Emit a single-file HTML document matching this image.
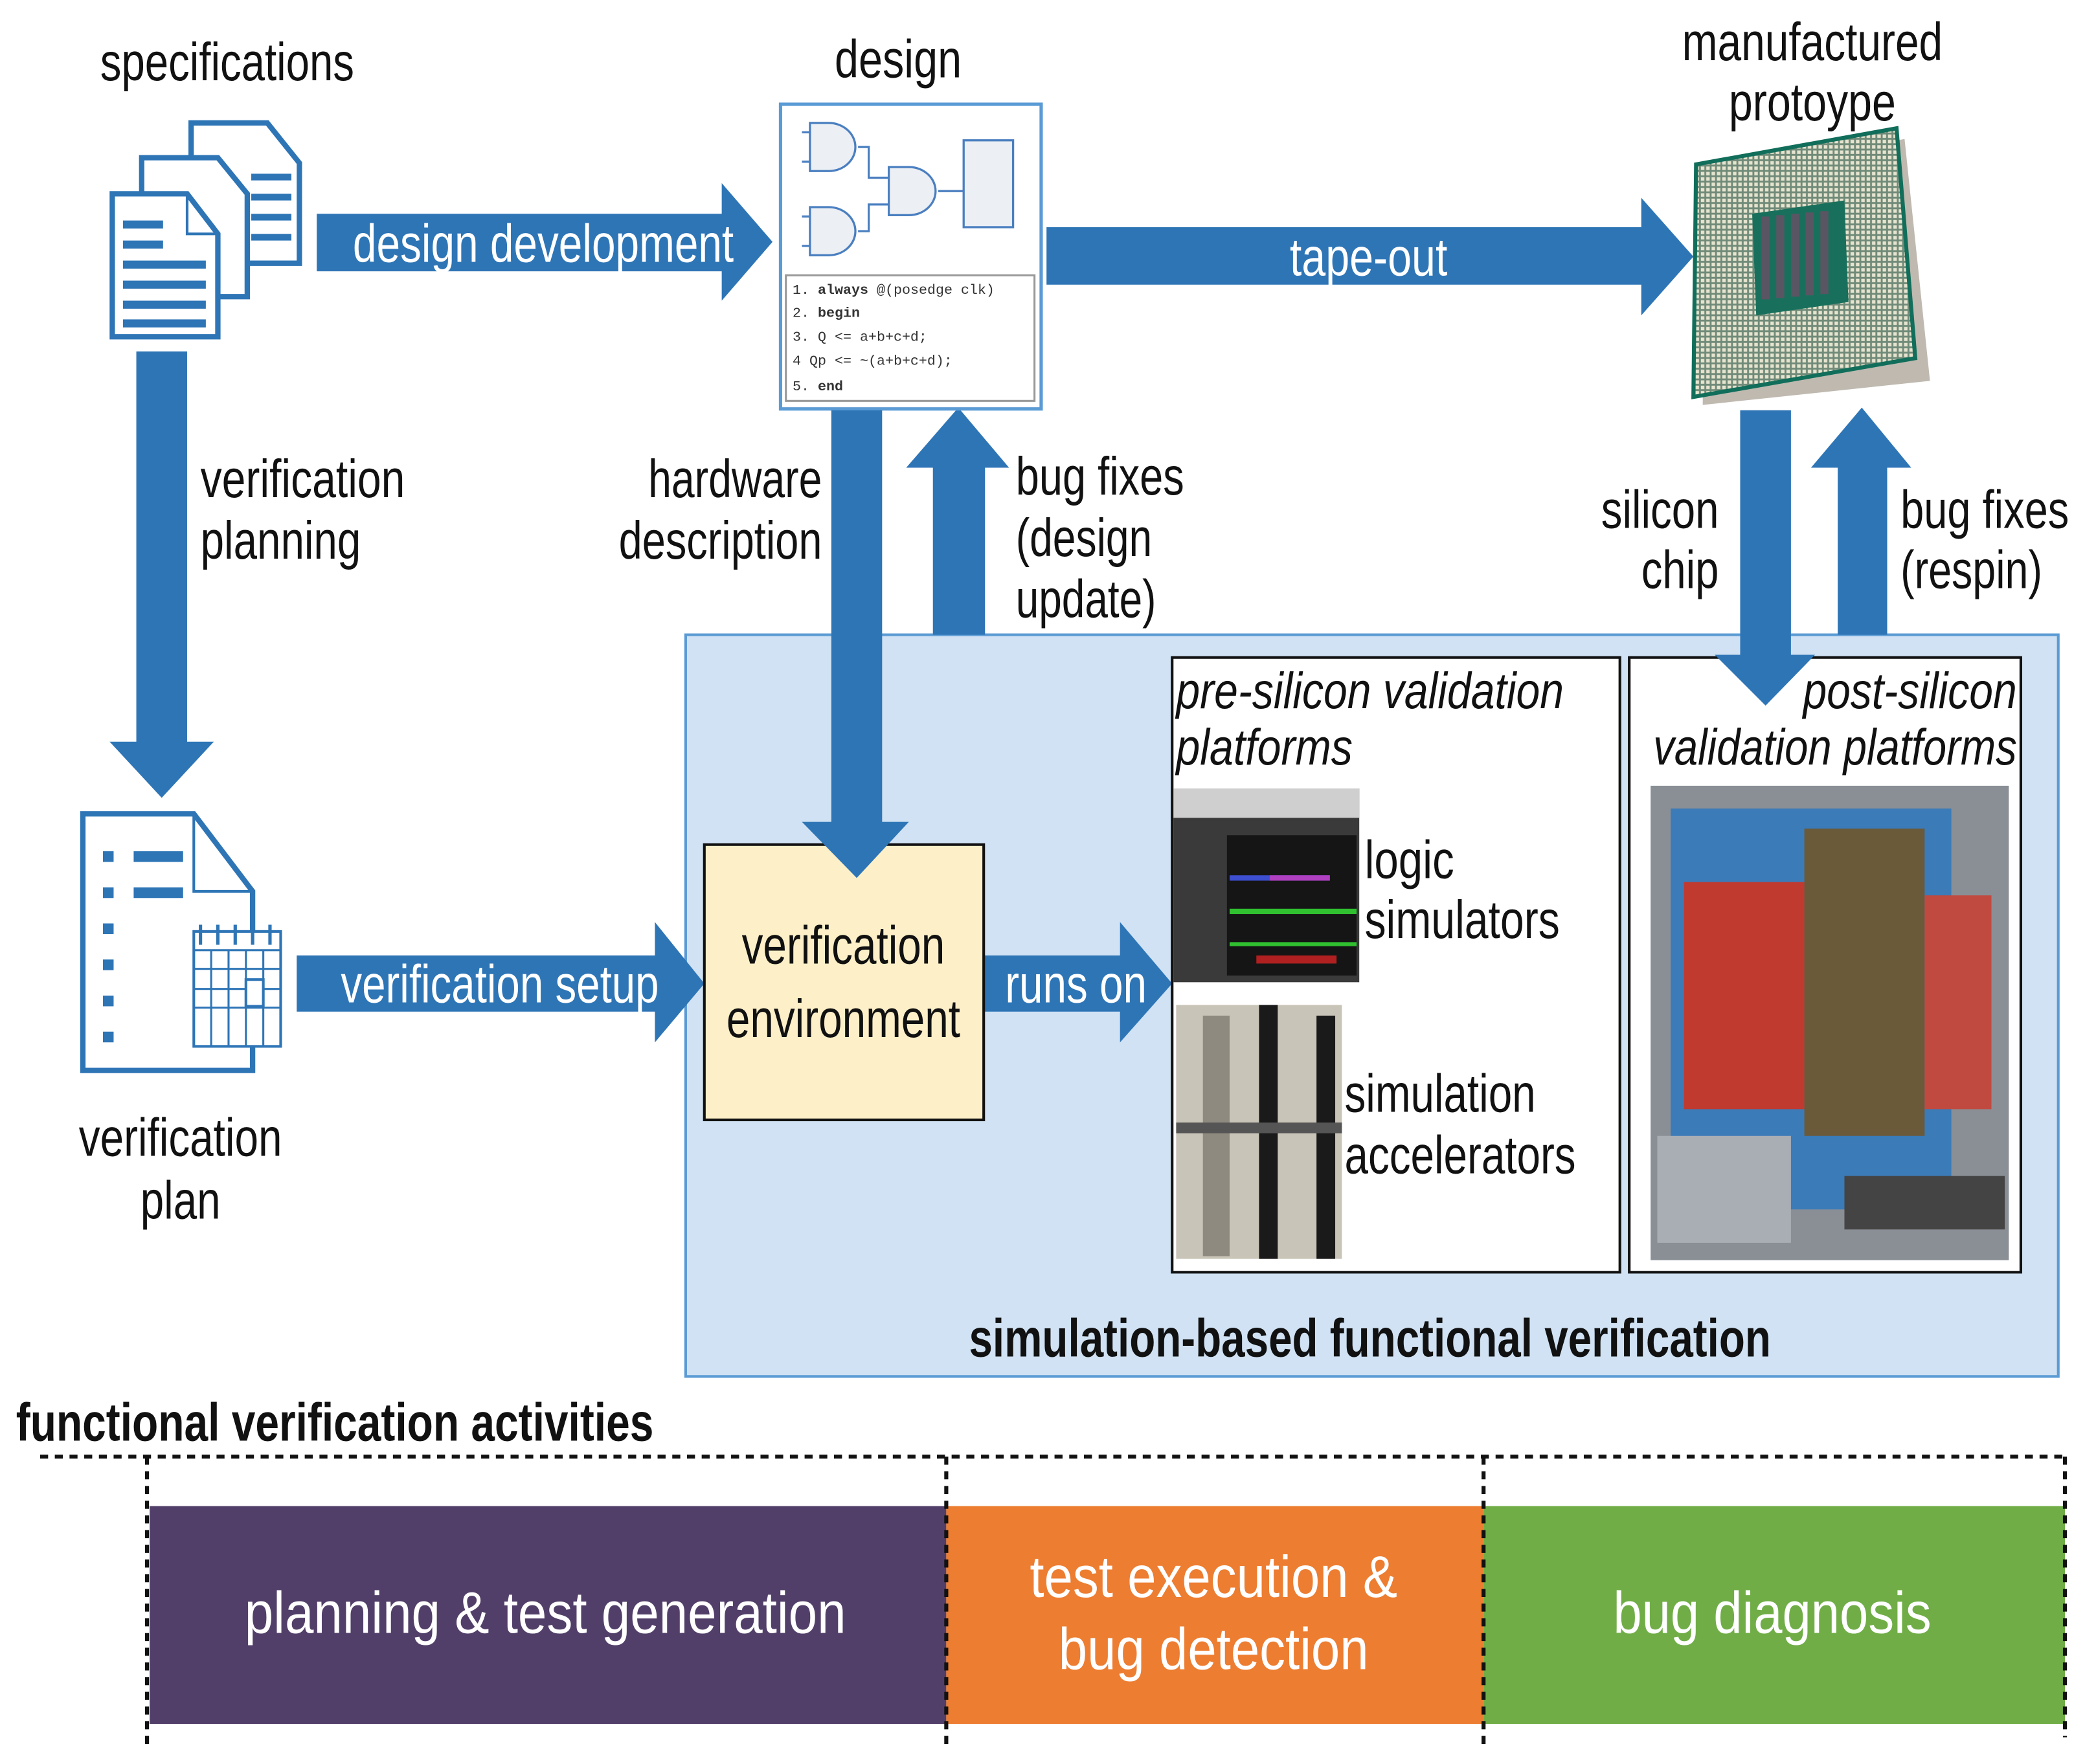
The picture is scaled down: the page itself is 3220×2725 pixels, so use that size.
<!DOCTYPE html>
<html><head><meta charset="utf-8"><style>
html,body{margin:0;padding:0;background:#fff;}
svg{display:block;}
text{font-family:"Liberation Sans Narrow","Liberation Sans",sans-serif;}
</style></head><body>
<svg width="3220" height="2725" viewBox="0 0 1560 1320" preserveAspectRatio="none" xmlns="http://www.w3.org/2000/svg">
<defs>
<pattern id="pins" width="4" height="4" patternUnits="userSpaceOnUse">
<rect width="4" height="4" fill="#6f8a78"/><rect x="0.6" y="0.6" width="2.6" height="2.6" fill="#e6e4cf"/>
</pattern>
</defs>
<rect x="513" y="475" width="1027" height="555" fill="#d0e2f3" stroke="#5b9bd5" stroke-width="2"/>
<g fill="#2e75b6">
<polygon points="237,160 540,160 540,137 578,181 540,225 540,203 237,203"/>
<polygon points="783,170 1228,170 1228,148 1267,192 1228,236 1228,213 783,213"/>
<polygon points="102,263 140,263 140,555 160,555 121,597 82,555 102,555"/>
<polygon points="222,715 490,715 490,690 527,736 490,780 490,757 222,757"/>
<polygon points="698,475 737,475 737,350 755,350 717,305 678,350 698,350"/>
<polygon points="736,715 838,715 838,690 877,736 838,780 838,757 736,757"/>
<polygon points="1375,475 1412,475 1412,350 1430,350 1393,305 1355,350 1375,350"/>
</g>

<g stroke="#2e75b6" stroke-width="4" fill="#fff">
<path d="M143,92 L200,92 L224,122 L224,197 L143,197 Z"/>
<path d="M106,118 L163,118 L185,145 L185,222 L106,222 Z"/>
<path d="M84,145 L140,145 L163,175 L163,252 L84,252 Z"/>
<path d="M140,145 L140,175 L163,175" fill="none" stroke-width="2"/>
</g>
<g fill="#2e75b6">
<rect x="188" y="130" width="30" height="5"/><rect x="188" y="145" width="30" height="5"/><rect x="188" y="160" width="30" height="5"/><rect x="188" y="175" width="30" height="5"/>
<rect x="92" y="165" width="30" height="6"/><rect x="92" y="180" width="30" height="6"/><rect x="92" y="195" width="62" height="6"/><rect x="92" y="210" width="62" height="6"/><rect x="92" y="225" width="62" height="6"/><rect x="92" y="239" width="62" height="6"/>
</g>

<g stroke="#2e75b6" fill="#fff">
<path d="M62,609 L145,609 L189,667 L189,801 L62,801 Z" stroke-width="4"/>
<path d="M145,609 L145,667 L189,667" fill="none" stroke-width="2"/>
<rect x="145" y="697" width="65" height="86" stroke-width="2"/>
<path d="M145,711 H210 M145,725 H210 M145,740 H210 M145,754 H210 M158,711 V783 M171,711 V783 M184,711 V783 M197,711 V783" stroke-width="1.5" fill="none"/>
<rect x="184" y="733" width="13" height="20" stroke-width="2"/>
<path d="M150,692 V707 M163,692 V707 M176,692 V707 M189,692 V707 M202,692 V707" stroke-width="2.5"/>
</g>
<g fill="#2e75b6">
<rect x="77" y="637" width="8" height="8"/><rect x="77" y="664" width="8" height="8"/><rect x="77" y="691" width="8" height="8"/><rect x="77" y="718" width="8" height="8"/><rect x="77" y="745" width="8" height="8"/><rect x="77" y="772" width="8" height="8"/>
<rect x="100" y="637" width="37" height="8"/><rect x="100" y="664" width="37" height="8"/>
</g>

<rect x="584" y="78" width="195" height="228" fill="#fff" stroke="#5b9bd5" stroke-width="2.5"/>
<g stroke="#4a7fc0" stroke-width="1.6" fill="#eceff4">
<path d="M606,92 H620 A20,18 0 0 1 620,128 H606 Z"/>
<path d="M606,155 H620 A20,18 0 0 1 620,191 H606 Z"/>
<path d="M665,125 H680 A20,18 0 0 1 680,161 H665 Z"/>
<rect x="721" y="105" width="37" height="65"/>
<path d="M600,99 H606 M600,121 H606 M600,162 H606 M600,184 H606 M642,110 H650 V133 H665 M642,173 H650 V153 H665 M702,143 H721" fill="none"/>
</g>
<rect x="588" y="206" width="186" height="94" fill="#fff" stroke="#999" stroke-width="1.5"/>
<g font-size="10.5" fill="#333">
<text x="593" y="220" style="font-family:'Liberation Mono',monospace">1. <tspan font-weight="bold">always</tspan> @(posedge clk)</text>
<text x="593" y="237" style="font-family:'Liberation Mono',monospace">2. <tspan font-weight="bold">begin</tspan></text>
<text x="593" y="255" style="font-family:'Liberation Mono',monospace">3.    Q &lt;= a+b+c+d;</text>
<text x="593" y="273" style="font-family:'Liberation Mono',monospace">4     Qp &lt;= ~(a+b+c+d);</text>
<text x="593" y="292" style="font-family:'Liberation Mono',monospace">5. <tspan font-weight="bold">end</tspan></text>
</g>

<polygon points="1274,130 1425,104 1444,285 1274,303" fill="#8a7f70" opacity="0.55"/>
<polygon points="1269,123 1419,96 1433,268 1267,297" fill="url(#pins)" stroke="#116e5a" stroke-width="3"/>
<polygon points="1311,160 1380,150 1383,226 1314,236" fill="#18705c"/>
<g fill="#5a5563">
<rect x="1318" y="162" width="6" height="62"/><rect x="1329" y="161" width="6" height="62"/><rect x="1340" y="160" width="6" height="62"/><rect x="1351" y="159" width="6" height="62"/><rect x="1362" y="158" width="6" height="62"/>
</g>

<rect x="527" y="632" width="209" height="206" fill="#fdf0c8" stroke="#111" stroke-width="2"/>
<polygon points="622,307 660,307 660,615 680,615 641,657 600,615 622,615" fill="#2e75b6"/>

<rect x="877" y="492" width="335" height="460" fill="#fff" stroke="#111" stroke-width="2"/>
<rect x="1219" y="492" width="293" height="460" fill="#fff" stroke="#111" stroke-width="2"/>
<polygon points="1302,307 1340,307 1340,490 1358,490 1321,528 1283,490 1302,490" fill="#2e75b6"/>
<rect x="878" y="590" width="139" height="145" fill="#3a3a3a"/>
<rect x="878" y="590" width="139" height="22" fill="#cfcfcf"/>
<rect x="918" y="625" width="97" height="105" fill="#151515"/>
<rect x="920" y="655" width="75" height="4" fill="#3d4fd0"/><rect x="950" y="655" width="45" height="4" fill="#b040c0"/>
<rect x="920" y="680" width="95" height="4" fill="#30c030"/><rect x="920" y="705" width="95" height="3" fill="#30c030"/>
<rect x="940" y="715" width="60" height="6" fill="#b02020"/>
<rect x="880" y="752" width="124" height="190" fill="#c9c4b8"/>
<rect x="900" y="760" width="20" height="180" fill="#8e8a80"/>
<rect x="942" y="752" width="14" height="190" fill="#1a1a1a"/><rect x="985" y="760" width="14" height="182" fill="#1a1a1a"/>
<rect x="880" y="840" width="124" height="8" fill="#555"/>
<rect x="1235" y="588" width="268" height="355" fill="#8a8f96"/>
<rect x="1250" y="605" width="210" height="300" fill="#3b7bb8"/>
<rect x="1260" y="660" width="90" height="170" fill="#c03a30"/>
<rect x="1350" y="620" width="90" height="230" fill="#6a5a3a"/>
<rect x="1440" y="670" width="50" height="160" fill="#c04a40"/>
<rect x="1240" y="850" width="100" height="80" fill="#a9aeb5"/>
<rect x="1380" y="880" width="120" height="40" fill="#444"/>

<g fill="#111" font-size="40">
<text x="170" y="60" text-anchor="middle" textLength="190" lengthAdjust="spacingAndGlyphs">specifications</text>
<text x="672" y="58" text-anchor="middle" textLength="95" lengthAdjust="spacingAndGlyphs">design</text>
<text x="1356" y="45" text-anchor="middle" textLength="195" lengthAdjust="spacingAndGlyphs">manufactured</text>
<text x="1356" y="90" text-anchor="middle" textLength="125" lengthAdjust="spacingAndGlyphs">protoype</text>
<text x="150" y="372" textLength="153" lengthAdjust="spacingAndGlyphs">verification</text>
<text x="150" y="418" textLength="120" lengthAdjust="spacingAndGlyphs">planning</text>
<text x="615" y="372" text-anchor="end" textLength="130" lengthAdjust="spacingAndGlyphs">hardware</text>
<text x="615" y="418" text-anchor="end" textLength="152" lengthAdjust="spacingAndGlyphs">description</text>
<text x="760" y="370" textLength="126" lengthAdjust="spacingAndGlyphs">bug fixes</text>
<text x="760" y="416" textLength="102" lengthAdjust="spacingAndGlyphs">(design</text>
<text x="760" y="462" textLength="105" lengthAdjust="spacingAndGlyphs">update)</text>
<text x="1286" y="395" text-anchor="end" textLength="88" lengthAdjust="spacingAndGlyphs">silicon</text>
<text x="1286" y="440" text-anchor="end" textLength="58" lengthAdjust="spacingAndGlyphs">chip</text>
<text x="1422" y="395" textLength="126" lengthAdjust="spacingAndGlyphs">bug fixes</text>
<text x="1422" y="440" textLength="106" lengthAdjust="spacingAndGlyphs">(respin)</text>
<text x="135" y="865" text-anchor="middle" textLength="152" lengthAdjust="spacingAndGlyphs">verification</text>
<text x="135" y="912" text-anchor="middle" textLength="60" lengthAdjust="spacingAndGlyphs">plan</text>
<text x="631" y="721" text-anchor="middle" textLength="152" lengthAdjust="spacingAndGlyphs">verification</text>
<text x="631" y="776" text-anchor="middle" textLength="175" lengthAdjust="spacingAndGlyphs">environment</text>
<text x="1021" y="657" textLength="67" lengthAdjust="spacingAndGlyphs">logic</text>
<text x="1021" y="702" textLength="146" lengthAdjust="spacingAndGlyphs">simulators</text>
<text x="1006" y="832" textLength="143" lengthAdjust="spacingAndGlyphs">simulation</text>
<text x="1006" y="878" textLength="173" lengthAdjust="spacingAndGlyphs">accelerators</text>
</g>
<g fill="#111" font-size="38" font-style="italic">
<text x="880" y="530" textLength="290" lengthAdjust="spacingAndGlyphs">pre-silicon validation</text>
<text x="880" y="572" textLength="132" lengthAdjust="spacingAndGlyphs">platforms</text>
<text x="1509" y="530" text-anchor="end" textLength="160" lengthAdjust="spacingAndGlyphs">post-silicon</text>
<text x="1509" y="572" text-anchor="end" textLength="272" lengthAdjust="spacingAndGlyphs">validation platforms</text>
</g>
<g fill="#fff" font-size="40">
<text x="264" y="196" textLength="285" lengthAdjust="spacingAndGlyphs">design development</text>
<text x="965" y="206" textLength="118" lengthAdjust="spacingAndGlyphs">tape-out</text>
<text x="255" y="750" textLength="238" lengthAdjust="spacingAndGlyphs">verification setup</text>
<text x="752" y="750" textLength="106" lengthAdjust="spacingAndGlyphs">runs on</text>
</g>
<g fill="#111" font-size="40" font-weight="bold">
<text x="1025" y="1015" text-anchor="middle" textLength="600" lengthAdjust="spacingAndGlyphs">simulation-based functional verification</text>
<text x="12" y="1078" textLength="477" lengthAdjust="spacingAndGlyphs">functional verification activities</text>
</g>

<rect x="112" y="1127" width="596" height="163" fill="#523f69"/>
<rect x="708" y="1127" width="402" height="163" fill="#ed7d31"/>
<rect x="1110" y="1127" width="435" height="163" fill="#70ad47"/>
<g stroke="#111" stroke-width="3" stroke-dasharray="6,5" fill="none">
<path d="M30,1090 H1545"/>
<path d="M110,1090 V1305 M708,1090 V1305 M1110,1090 V1305 M1545,1090 V1300"/>
</g>
<g fill="#fff" font-size="44" text-anchor="middle">
<text x="408" y="1222" textLength="450" lengthAdjust="spacingAndGlyphs">planning &amp; test generation</text>
<text x="908" y="1195" textLength="275" lengthAdjust="spacingAndGlyphs">test execution &amp;</text>
<text x="908" y="1249" textLength="232" lengthAdjust="spacingAndGlyphs">bug detection</text>
<text x="1326" y="1222" textLength="238" lengthAdjust="spacingAndGlyphs">bug diagnosis</text>
</g>
</svg>
</body></html>
